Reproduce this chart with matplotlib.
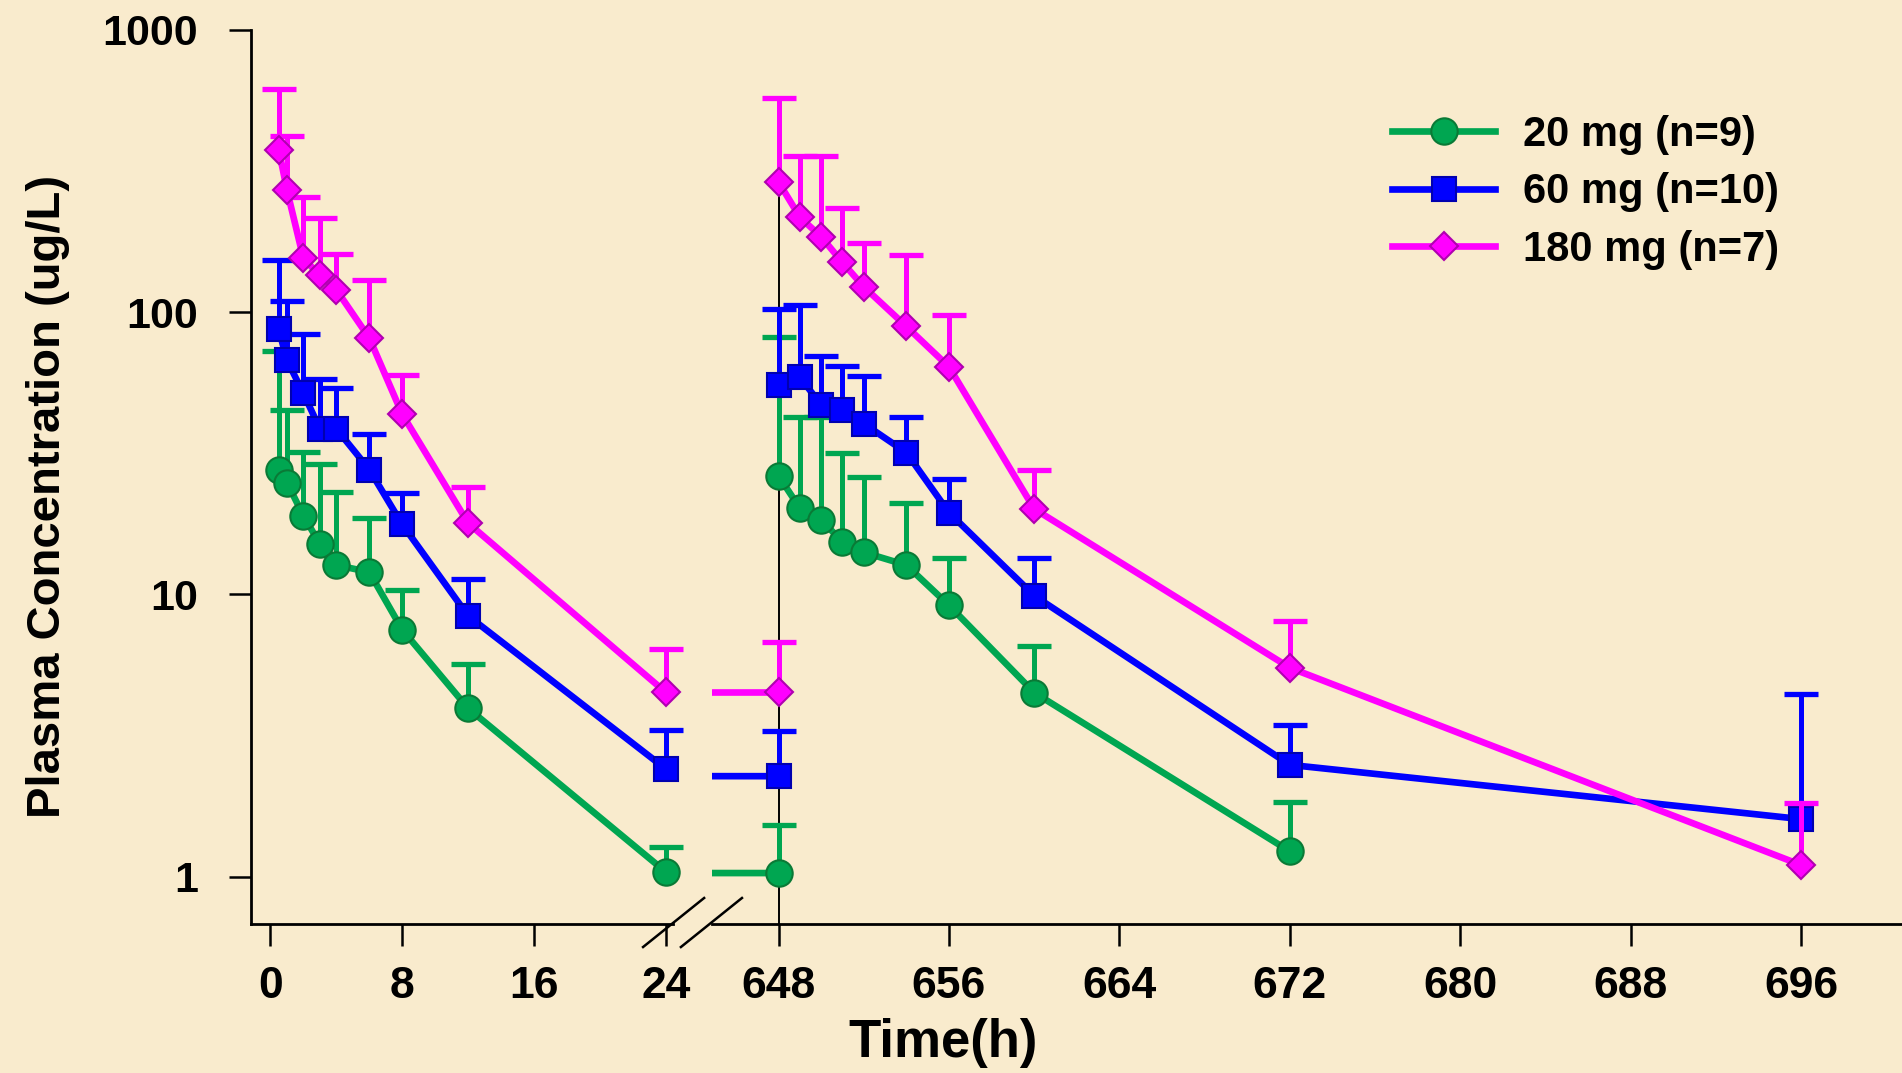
import matplotlib
matplotlib.use("Agg")
import matplotlib.pyplot as plt
from matplotlib.lines import Line2D
from matplotlib.ticker import FixedLocator, NullLocator

plt.rcParams["font.family"] = ["Liberation Sans", "DejaVu Sans"]
plt.rcParams["font.weight"] = "bold"

# sampling times (h)
t_first = [0.5, 1, 2, 3, 4, 6, 8, 12, 24]
t_predose = 648
t_second = [648, 649, 650, 651, 652, 654, 656, 660, 672, 696]

# 20 mg: mean and mean+SD
green_first = [27.7, 24.9, 19.0, 15.1, 12.7, 12.0, 7.5, 3.95, 1.04]
green_first_up = [73, 45, 32, 29, 23, 18.6, 10.4, 5.65, 1.27]
green_pre, green_pre_up = 1.03, 1.52
green_second = [26.3, 20.2, 18.3, 15.4, 14.1, 12.7, 9.15, 4.49, 1.23]
green_second_up = [82, 42.5, 42.5, 31.8, 26.0, 21.1, 13.5, 6.56, 1.84]

# 60 mg
blue_first = [87, 67.6, 51.6, 38.6, 38.6, 27.7, 17.7, 8.4, 2.41]
blue_first_up = [153, 110, 84, 58, 54, 37, 22.9, 11.3, 3.3]
blue_pre, blue_pre_up = 2.27, 3.29
blue_second = [55.2, 58.9, 46.9, 45.0, 40.3, 31.8, 19.5, 9.9, 2.49, 1.6]
blue_second_up = [103, 106, 70, 64.7, 59.5, 42.5, 25.6, 13.5, 3.46, 4.44]

# 180 mg
pink_first = [377, 271, 155, 135, 120, 81, 43.5, 17.9, 4.5]
pink_first_up = [617, 422, 256, 215, 161, 130, 60, 24, 6.4]
pink_pre, pink_pre_up = 4.5, 6.8
pink_second = [289, 217, 185, 150, 123, 89, 64, 20.1, 5.5, 1.1]
pink_second_up = [576, 359, 359, 234, 176, 160, 97.5, 27.6, 8.07, 1.82]

labels = ["20 mg (n=9)", "60 mg (n=10)", "180 mg (n=7)"]
y_ticks = [1, 10, 100, 1000]
x_ticks_first = [0, 8, 16, 24]
x_ticks_second = [648, 656, 664, 672, 680, 688, 696]

bg = "#F9EBCD"
groups = [
    dict(color="#00A651", marker="o", ms=19, mec="#0A7A36",
         v1=green_first, u1=green_first_up, pre=green_pre, pre_up=green_pre_up,
         v2=green_second, u2=green_second_up, z=2),
    dict(color="#0000FF", marker="s", ms=17.5, mec="#0000B0",
         v1=blue_first, u1=blue_first_up, pre=blue_pre, pre_up=blue_pre_up,
         v2=blue_second, u2=blue_second_up, z=3),
    dict(color="#FF00FF", marker="D", ms=14.5, mec="#B000B0",
         v1=pink_first, u1=pink_first_up, pre=pink_pre, pre_up=pink_pre_up,
         v2=pink_second, u2=pink_second_up, z=4),
]

fig = plt.figure(figsize=(19.02, 10.73), dpi=100, facecolor=bg)
ax1 = fig.add_axes([0.132, 0.1389, 0.2219, 0.8332])
ax2 = fig.add_axes([0.3743, 0.1389, 0.6257, 0.8332], sharey=ax1)


def draw_group(ax, g):
    c, z = g["color"], g["z"]
    t1 = t_first + [t_predose]
    v1 = g["v1"] + [g["pre"]]
    u1 = g["u1"] + [g["pre_up"]]
    t2 = t_second[:len(g["v2"])]
    for t, v, u in [(t1, v1, u1), (t2, g["v2"], g["u2"])]:
        ax.plot(t, v, color=c, lw=4.8, zorder=z)
        ax.vlines(t, v, u, color=c, lw=3.6, zorder=z + 0.1, clip_on=False)
        ax.plot(t, u, ls="none", marker="_", ms=24, mew=3.8, color=c,
                zorder=z + 0.1, clip_on=False)
        ax.plot(t, v, ls="none", marker=g["marker"], ms=g["ms"], mfc=c,
                mec=g["mec"], mew=1.5, zorder=z + 0.2, clip_on=False)


for ax in (ax1, ax2):
    ax.set_facecolor("none")
    for g in groups:
        draw_group(ax, g)
    ax.set_yscale("log")
    ax.spines["top"].set_visible(False)
    ax.spines["right"].set_visible(False)
    ax.spines["bottom"].set_linewidth(2)
    ax.spines["left"].set_linewidth(2)
    ax.tick_params(axis="x", length=16, width=1.8, pad=14, labelsize=32)

ax1.set_ylim(0.68, 1000)
ax1.set_xlim(-1.18, 24.45)
ax2.set_xlim(644.87, 700.74)

ax1.yaxis.set_major_locator(FixedLocator(y_ticks))
ax1.yaxis.set_minor_locator(NullLocator())
ax1.set_yticklabels([str(v) for v in y_ticks])
ax1.tick_params(axis="y", which="major", length=16, width=1.8, pad=22, labelsize=31)
ax1.set_xticks(x_ticks_first)
ax2.set_xticks(x_ticks_second)

ax2.spines["left"].set_visible(False)
ax2.tick_params(axis="y", which="both", left=False, labelleft=False)

# dosing marker at start of second period
ax2.vlines(t_predose, 0.68, pink_second[0], color="black", lw=1.4, zorder=1)

ax1.set_ylabel("Plasma Concentration (ug/L)", fontsize=34, fontweight="bold")
ax1.yaxis.set_label_coords(-0.43, 0.478)
fig.text(0.4958, 0.028, "Time(h)", ha="center", va="center",
         fontsize=38, fontweight="bold")

# axis break marks
for x0 in (0.3381, 0.3580):
    fig.add_artist(Line2D([x0, x0 + 0.0321], [0.1174, 0.1631],
                          transform=fig.transFigure, color="black", lw=1.8))

handles = [Line2D([], [], color=g["color"], lw=4.8, marker=g["marker"],
                  ms=g["ms"], mfc=g["color"], mec=g["mec"], mew=1.5)
           for g in groups]
ax2.legend(handles, labels, loc="upper left", bbox_to_anchor=(0.732, 0.893),
           bbox_transform=fig.transFigure, frameon=False, borderpad=0,
           borderaxespad=0, fontsize=30, handlelength=2.47,
           handletextpad=0.67, labelspacing=0.42)

fig.savefig("out.png", dpi=100, facecolor=bg)
